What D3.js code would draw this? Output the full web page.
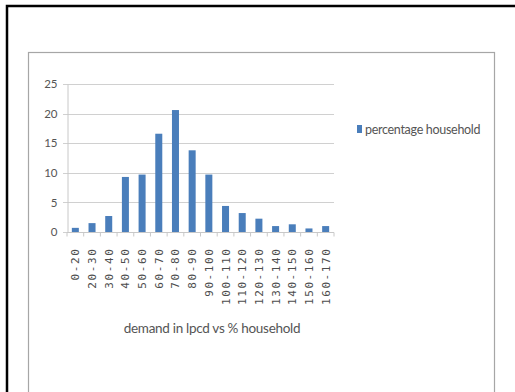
<!DOCTYPE html>
<html>
<head>
<meta charset="utf-8">
<script src="https://cdn.jsdelivr.net/npm/d3@7"></script>
<style>
  html, body { margin: 0; padding: 0; background: #fff; }
  svg { display: block; }
</style>
</head>
<body>
<svg id="chart" width="515" height="392"></svg>
<script>
// Demand bands (lpcd) and share of households in each band (%)
const categories = ["0-20","20-30","30-40","40-50","50-60","60-70","70-80","80-90","90-100",
  "100-110","110-120","120-130","130-140","140-150","150-160","160-170"];
const percentageHousehold = [0.7,1.5,2.7,9.3,9.7,16.6,20.6,13.8,9.7,4.4,3.2,2.25,1.0,1.3,0.6,1.0];
const yTicks = [0,5,10,15,20,25];
const seriesName = "percentage household";
const axisTitle = "demand in lpcd vs % household";

const svg = d3.select("#chart");
const sans = "Lato, 'Liberation Sans', sans-serif";

// page frame and chart frame
svg.append("path")
  .attr("d", "M7,392 V6 H515")
  .attr("fill", "none").attr("stroke", "#000").attr("stroke-width", 2.5);
svg.append("rect")
  .attr("x", 28.5).attr("y", 52.5).attr("width", 466).attr("height", 360)
  .attr("fill", "#fff").attr("stroke", "#a6a6a6").attr("stroke-width", 1.2);

const plot = { left: 67, right: 334, top: 84, bottom: 232 };

const x = d3.scaleBand().domain(categories).range([plot.left, plot.right]).paddingInner(0.58).paddingOuter(0.29);
const xb = d3.scaleBand().domain(categories).range([plot.left, plot.right]);
const y = d3.scaleLinear().domain([0, 25]).range([plot.bottom, plot.top]);

// gridlines (with short outward tick on the left)
svg.append("g").selectAll("line").data(yTicks).join("line")
  .attr("x1", plot.left - 4).attr("x2", plot.right)
  .attr("y1", d => Math.round(y(d)) + 0.5).attr("y2", d => Math.round(y(d)) + 0.5)
  .attr("stroke", "#d0d0d0").attr("stroke-width", 1.2);

// y axis
const yAxis = svg.append("g").attr("transform", `translate(${plot.left + 0.5},0)`)
  .call(d3.axisLeft(y).tickValues(yTicks).tickSize(0).tickPadding(10));
yAxis.select(".domain").attr("stroke", "#c8c8c8");
yAxis.selectAll("text").attr("fill", "#555").attr("font-family", sans).attr("font-size", 11.5);

// bars
svg.append("g").selectAll("rect").data(percentageHousehold).join("rect")
  .attr("x", (d, i) => x(categories[i]))
  .attr("width", x.bandwidth())
  .attr("y", d => y(d))
  .attr("height", d => y(0) - y(d))
  .attr("fill", "#4a7ebb");

// x axis with tick marks at category boundaries
const xAxisG = svg.append("g").attr("transform", `translate(0,${plot.bottom + 0.5})`);
xAxisG.append("line").attr("x1", plot.left).attr("x2", plot.right).attr("stroke", "#c8c8c8").attr("stroke-width", 1.2);
xAxisG.selectAll("line.tick").data(categories.concat(["end"])).join("line").attr("class", "tick")
  .attr("x1", (d, i) => i < categories.length ? xb(d) : plot.right)
  .attr("x2", (d, i) => i < categories.length ? xb(d) : plot.right)
  .attr("y1", 0).attr("y2", 4).attr("stroke", "#c8c8c8");
xAxisG.selectAll("text").data(categories).join("text")
  .attr("transform", d => `translate(${xb(d) + xb.bandwidth() / 2 + 4},15) rotate(-90)`)
  .attr("text-anchor", "end")
  .attr("font-family", "'DejaVu Sans Mono', monospace")
  .attr("font-size", 11).attr("letter-spacing", 1.6)
  .attr("fill", "#4d4d4d")
  .text(d => d);

// axis title
svg.append("text")
  .attr("x", 212).attr("y", 333)
  .attr("text-anchor", "middle")
  .attr("font-family", sans)
  .attr("font-size", 13.5).attr("letter-spacing", -0.3)
  .attr("fill", "#555")
  .text(axisTitle);

// legend
const legend = svg.append("g").attr("transform", "translate(357,125)");
legend.append("rect").attr("width", 5).attr("height", 8).attr("fill", "#4a7ebb");
legend.append("text").attr("x", 8).attr("y", 8.5)
  .attr("font-family", sans)
  .attr("font-size", 12.5).attr("letter-spacing", -0.3)
  .attr("fill", "#555")
  .text(seriesName);
</script>
</body>
</html>
